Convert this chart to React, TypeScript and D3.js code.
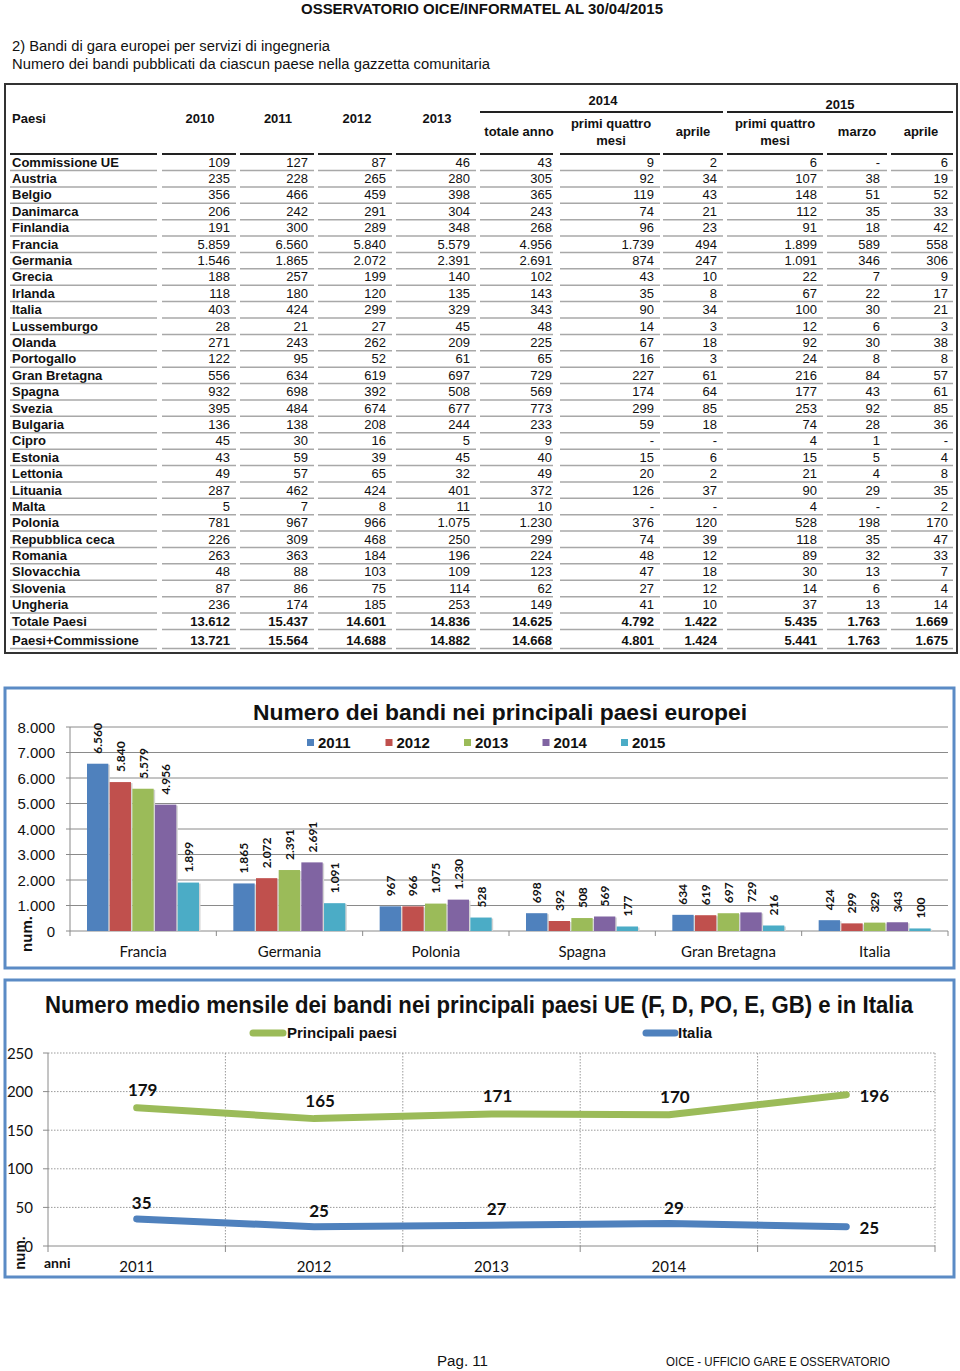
import React from 'react';
import * as d3 from 'd3';

// ---------- TABLE DATA ----------
const tableHeaderYears = ['2010', '2011', '2012', '2013'];
const countries = ['Commissione UE', 'Austria', 'Belgio', 'Danimarca', 'Finlandia', 'Francia', 'Germania', 'Grecia', 'Irlanda', 'Italia', 'Lussemburgo', 'Olanda', 'Portogallo', 'Gran Bretagna', 'Spagna', 'Svezia', 'Bulgaria', 'Cipro', 'Estonia', 'Lettonia', 'Lituania', 'Malta', 'Polonia', 'Repubblica ceca', 'Romania', 'Slovacchia', 'Slovenia', 'Ungheria', 'Totale Paesi', 'Paesi+Commissione'];
const col2010 = ['109', '235', '356', '206', '191', '5.859', '1.546', '188', '118', '403', '28', '271', '122', '556', '932', '395', '136', '45', '43', '49', '287', '5', '781', '226', '263', '48', '87', '236', '13.612', '13.721'];
const col2011 = ['127', '228', '466', '242', '300', '6.560', '1.865', '257', '180', '424', '21', '243', '95', '634', '698', '484', '138', '30', '59', '57', '462', '7', '967', '309', '363', '88', '86', '174', '15.437', '15.564'];
const col2012 = ['87', '265', '459', '291', '289', '5.840', '2.072', '199', '120', '299', '27', '262', '52', '619', '392', '674', '208', '16', '39', '65', '424', '8', '966', '468', '184', '103', '75', '185', '14.601', '14.688'];
const col2013 = ['46', '280', '398', '304', '348', '5.579', '2.391', '140', '135', '329', '45', '209', '61', '697', '508', '677', '244', '5', '45', '32', '401', '11', '1.075', '250', '196', '109', '114', '253', '14.836', '14.882'];
const col2014Tot = ['43', '305', '365', '243', '268', '4.956', '2.691', '102', '143', '343', '48', '225', '65', '729', '569', '773', '233', '9', '40', '49', '372', '10', '1.230', '299', '224', '123', '62', '149', '14.625', '14.668'];
const col2014Q4 = ['9', '92', '119', '74', '96', '1.739', '874', '43', '35', '90', '14', '67', '16', '227', '174', '299', '59', '-', '15', '20', '126', '-', '376', '74', '48', '47', '27', '41', '4.792', '4.801'];
const col2014Apr = ['2', '34', '43', '21', '23', '494', '247', '10', '8', '34', '3', '18', '3', '61', '64', '85', '18', '-', '6', '2', '37', '-', '120', '39', '12', '18', '12', '10', '1.422', '1.424'];
const col2015Q4 = ['6', '107', '148', '112', '91', '1.899', '1.091', '22', '67', '100', '12', '92', '24', '216', '177', '253', '74', '4', '15', '21', '90', '4', '528', '118', '89', '30', '14', '37', '5.435', '5.441'];
const col2015Mar = ['-', '38', '51', '35', '18', '589', '346', '7', '22', '30', '6', '30', '8', '84', '43', '92', '28', '1', '5', '4', '29', '-', '198', '35', '32', '13', '6', '13', '1.763', '1.763'];
const col2015Apr = ['6', '19', '52', '33', '42', '558', '306', '9', '17', '21', '3', '38', '8', '57', '61', '85', '36', '-', '4', '8', '35', '2', '170', '47', '33', '7', '4', '14', '1.669', '1.675'];

// ---------- BAR CHART DATA ----------
const barCategories = ['Francia', 'Germania', 'Polonia', 'Spagna', 'Gran Bretagna', 'Italia'];
const barSeries = ['2011', '2012', '2013', '2014', '2015'];
const bars2011 = [6560, 1865, 967, 698, 634, 424];
const bars2012 = [5840, 2072, 966, 392, 619, 299];
const bars2013 = [5579, 2391, 1075, 508, 697, 329];
const bars2014 = [4956, 2691, 1230, 569, 729, 343];
const bars2015 = [1899, 1091, 528, 177, 216, 100];
const barColors = ['#4f81bd', '#c0504d', '#9bbb59', '#8064a2', '#4bacc6'];

// ---------- LINE CHART DATA ----------
const lineYears = ['2011', '2012', '2013', '2014', '2015'];
const principaliPaesi = [179, 165, 171, 170, 196];
const italiaMedia = [35, 25, 27, 29, 25];

const ARIAL = "'Liberation Sans', Arial, Helvetica, sans-serif";
const CAL = "Lato, 'Open Sans', sans-serif";

const itLocale = d3.formatLocale({ decimal: ',', thousands: '.', grouping: [3], currency: ['€', ''] });
const fmt = itLocale.format(',d');

export default function App() {
  // ---------- table layout ----------
  const columns = [col2010, col2011, col2012, col2013, col2014Tot, col2014Q4, col2014Apr, col2015Q4, col2015Mar, col2015Apr];
  const rightEdges = [230, 308, 386, 470, 552, 654, 717, 817, 880, 948];
  const segs: [number, number][] = [[10, 157], [162, 236], [240, 314], [318, 392], [396, 476], [480, 553], [560, 660], [663, 723], [727, 823], [827, 887], [891, 953]];
  const rowY = (i: number) => (i < 29 ? 162 + i * 16.39 : 640);

  // ---------- bar chart scales ----------
  const bx = d3.scaleBand<string>().domain(barCategories).range([70, 948]).padding(0);
  const bInner = d3.scaleBand<string>().domain(barSeries).range([17, 129]).paddingInner(0.06);
  const by = d3.scaleLinear().domain([0, 8000]).range([931, 727]);
  const barTicks = d3.range(0, 8001, 1000);
  const seriesVals = [bars2011, bars2012, bars2013, bars2014, bars2015];

  // ---------- line chart scales ----------
  const lx = d3.scaleBand<string>().domain(lineYears).range([48, 935]).padding(0);
  const ly = d3.scaleLinear().domain([0, 250]).range([1246, 1053]);
  const lineTicks = d3.range(0, 251, 50);
  const lineGen = d3.line<number>().x((_, i) => lx(lineYears[i])! + lx.bandwidth() / 2).y((d) => ly(d));
  const bounds = [...lineYears.map((y) => lx(y)!), 935];

  return (
    <div style={{ position: 'absolute', left: 0, top: 0 }}>
      <svg width={960} height={1371} style={{ display: 'block', background: '#fff' }}>
        {/* Page header */}
        <text x={482} y={14} textAnchor="middle" fontFamily={ARIAL} fontWeight="bold" fontSize={15} textLength={362} lengthAdjust="spacingAndGlyphs" fill="#111">OSSERVATORIO OICE/INFORMATEL AL 30/04/2015</text>
        <text x={12} y={51} fontFamily={ARIAL} fontSize={14} textLength={318} lengthAdjust="spacingAndGlyphs" fill="#111">2) Bandi di gara europei per servizi di ingegneria</text>
        <text x={12} y={69} fontFamily={ARIAL} fontSize={14} textLength={478} lengthAdjust="spacingAndGlyphs" fill="#111">Numero dei bandi pubblicati da ciascun paese nella gazzetta comunitaria</text>

        {/* Table */}
        <rect x={5} y={84} width={952} height={569} fill="none" stroke="#333" strokeWidth={2} />
        <g fontFamily={ARIAL} fontSize={13} fontWeight="bold" fill="#111">
          <text x={12} y={123}>Paesi</text>
          {tableHeaderYears.map((y, i) => (
            <text key={y} x={[200, 278, 357, 437][i]} y={123} textAnchor="middle">{y}</text>
          ))}
          <text x={603} y={105} textAnchor="middle">2014</text>
          <text x={840} y={109} textAnchor="middle">2015</text>
          <text x={519} y={136} textAnchor="middle">totale anno</text>
          <text x={611} y={128} textAnchor="middle">primi quattro</text>
          <text x={611} y={145} textAnchor="middle">mesi</text>
          <text x={693} y={136} textAnchor="middle">aprile</text>
          <text x={775} y={128} textAnchor="middle">primi quattro</text>
          <text x={775} y={145} textAnchor="middle">mesi</text>
          <text x={857} y={136} textAnchor="middle">marzo</text>
          <text x={921} y={136} textAnchor="middle">aprile</text>
        </g>
        <line x1={480} x2={723} y1={112} y2={112} stroke="#222" strokeWidth={2} />
        <line x1={727} x2={953} y1={112} y2={112} stroke="#222" strokeWidth={2} />
        {segs.map(([a, b], k) => (
          <line key={'h' + k} x1={a} x2={b} y1={154} y2={154} stroke="#222" strokeWidth={2} />
        ))}
        {countries.map((c, i) => {
          const cy = rowY(i);
          const bold = i >= 28;
          return (
            <g key={c}>
              <text x={12} y={cy + 4.7} fontFamily={ARIAL} fontSize={13} fontWeight="bold" fill="#111">{c}</text>
              {columns.map((col, j) => (
                <text key={j} x={rightEdges[j]} y={cy + 4.7} textAnchor="end" fontFamily={ARIAL} fontSize={13} fontWeight={bold ? 'bold' : 'normal'} fill="#111">{col[i]}</text>
              ))}
              {segs.map(([a, b], k) => (
                <line key={k} x1={a} x2={b} y1={cy + 8.5} y2={cy + 8.5} stroke="#a8a8a8" strokeWidth={1.5} />
              ))}
            </g>
          );
        })}

        {/* Bar chart */}
        <rect x={5} y={688} width={949} height={280} fill="#fff" stroke="#5b8bc5" strokeWidth={3} />
        <text x={500} y={720} textAnchor="middle" fontFamily={ARIAL} fontWeight="bold" fontSize={22} textLength={494} lengthAdjust="spacingAndGlyphs" fill="#111">Numero dei bandi nei principali paesi europei</text>
        {barTicks.map((t) => (
          <g key={t}>
            <line x1={66} x2={948} y1={by(t)} y2={by(t)} stroke="#8a8a8a" strokeWidth={1} />
            <text x={55} y={by(t) + 5.5} textAnchor="end" fontFamily={ARIAL} fontSize={15} fill="#111">{fmt(t)}</text>
          </g>
        ))}
        <line x1={70} x2={70} y1={727} y2={931} stroke="#8a8a8a" strokeWidth={1} />
        {[...barCategories.map((c) => bx(c)!), 948].map((x, i) => (
          <line key={i} x1={x} x2={x} y1={931} y2={936} stroke="#8a8a8a" strokeWidth={1} />
        ))}
        {barSeries.map((s, si) => (
          <g key={s}>
            <rect x={307 + si * 78.5} y={739} width={7} height={7} fill={barColors[si]} />
            <text x={318 + si * 78.5} y={748} fontFamily={ARIAL} fontWeight="bold" fontSize={15} fill="#111">{s}</text>
          </g>
        ))}
        {barCategories.map((c, ci) => (
          <g key={c}>
            {barSeries.map((s, si) => {
              const v = seriesVals[si][ci];
              const x = bx(c)! + bInner(s)!;
              const w = bInner.bandwidth();
              const y = by(v);
              const cxm = x + w / 2;
              return (
                <g key={s}>
                  <rect x={x + 1.5} y={y + 1} width={w} height={by(0) - y - 1} fill="#d4d4d4" />
                  <rect x={x} y={y} width={w} height={by(0) - y} fill={barColors[si]} />
                  <text transform={`translate(${cxm + 4.5},${y - 10}) rotate(-90)`} fontFamily={CAL} fontWeight="bold" fontSize={12} fill="#111">{fmt(v)}</text>
                </g>
              );
            })}
            <text x={bx(c)! + bx.bandwidth() / 2} y={957} textAnchor="middle" fontFamily={CAL} fontSize={15} fill="#111">{c}</text>
          </g>
        ))}
        <text transform="translate(32,934) rotate(-90)" textAnchor="middle" fontFamily={ARIAL} fontWeight="bold" fontSize={15} fill="#111">num.</text>

        {/* Line chart */}
        <rect x={5} y={980} width={949} height={297} fill="#fff" stroke="#5b8bc5" strokeWidth={3} />
        <text x={479} y={1013} textAnchor="middle" fontFamily={ARIAL} fontWeight="bold" fontSize={23} textLength={868} lengthAdjust="spacingAndGlyphs" fill="#111">Numero medio mensile dei bandi nei principali paesi UE (F, D, PO, E, GB) e in Italia</text>
        <line x1={253} x2={283} y1={1033} y2={1033} stroke="#9bbb59" strokeWidth={7} strokeLinecap="round" />
        <text x={287} y={1038} fontFamily={ARIAL} fontWeight="bold" fontSize={15} textLength={110} lengthAdjust="spacingAndGlyphs" fill="#111">Principali paesi</text>
        <line x1={646} x2={675} y1={1033} y2={1033} stroke="#4f81bd" strokeWidth={7} strokeLinecap="round" />
        <text x={678} y={1038} fontFamily={ARIAL} fontWeight="bold" fontSize={15} textLength={34} lengthAdjust="spacingAndGlyphs" fill="#111">Italia</text>
        {lineTicks.map((t) => (
          <g key={t}>
            {t > 0 && <line x1={48} x2={935} y1={ly(t)} y2={ly(t)} stroke="#9a9a9a" strokeWidth={1} strokeDasharray="1.5,1.5" />}
            <line x1={43} x2={48} y1={ly(t)} y2={ly(t)} stroke="#8a8a8a" strokeWidth={1} />
            <text x={33} y={ly(t) + 5.5} textAnchor="end" fontFamily={CAL} fontSize={15} fill="#111">{t}</text>
          </g>
        ))}
        {bounds.slice(1).map((x, i) => (
          <line key={'v' + i} x1={x} x2={x} y1={1053} y2={1246} stroke="#9a9a9a" strokeWidth={1} strokeDasharray="1.5,1.5" />
        ))}
        <line x1={48} x2={48} y1={1053} y2={1246} stroke="#8a8a8a" strokeWidth={1} />
        <line x1={48} x2={935} y1={1246} y2={1246} stroke="#8a8a8a" strokeWidth={1} />
        {bounds.map((x, i) => (
          <line key={'t' + i} x1={x} x2={x} y1={1246} y2={1252} stroke="#8a8a8a" strokeWidth={1} />
        ))}
        <path d={lineGen(principaliPaesi)!} fill="none" stroke="#9bbb59" strokeWidth={7} strokeLinecap="round" strokeLinejoin="round" />
        <path d={lineGen(italiaMedia)!} fill="none" stroke="#4f81bd" strokeWidth={7} strokeLinecap="round" strokeLinejoin="round" />
        {principaliPaesi.map((v, i) => {
          const cx = lx(lineYears[i])! + lx.bandwidth() / 2;
          const last = i === principaliPaesi.length - 1;
          return (
            <text key={'p' + i} x={last ? cx + 28 : cx + 6} y={last ? ly(v) + 7 : ly(v) - 12} textAnchor="middle" fontFamily={CAL} fontWeight="bold" fontSize={17} fill="#111">{v}</text>
          );
        })}
        {italiaMedia.map((v, i) => {
          const cx = lx(lineYears[i])! + lx.bandwidth() / 2;
          const last = i === italiaMedia.length - 1;
          return (
            <text key={'i' + i} x={last ? cx + 23 : cx + 5} y={last ? ly(v) + 7 : ly(v) - 10} textAnchor="middle" fontFamily={CAL} fontWeight="bold" fontSize={17} fill="#111">{v}</text>
          );
        })}
        {lineYears.map((y) => (
          <text key={y} x={lx(y)! + lx.bandwidth() / 2} y={1272} textAnchor="middle" fontFamily={CAL} fontSize={15} fill="#111">{y}</text>
        ))}
        <text x={44} y={1268} fontFamily={CAL} fontWeight="bold" fontSize={14} fill="#111">anni</text>
        <text transform="translate(25,1253) rotate(-90)" textAnchor="middle" fontFamily={ARIAL} fontWeight="bold" fontSize={14} fill="#111">num.</text>

        {/* Footer */}
        <text x={437} y={1366} fontFamily={ARIAL} fontSize={14} textLength={51} lengthAdjust="spacingAndGlyphs" fill="#111">Pag. 11</text>
        <text x={666} y={1366} fontFamily={ARIAL} fontSize={12} textLength={224} lengthAdjust="spacingAndGlyphs" fill="#111">OICE - UFFICIO GARE E OSSERVATORIO</text>
      </svg>
    </div>
  );
}
